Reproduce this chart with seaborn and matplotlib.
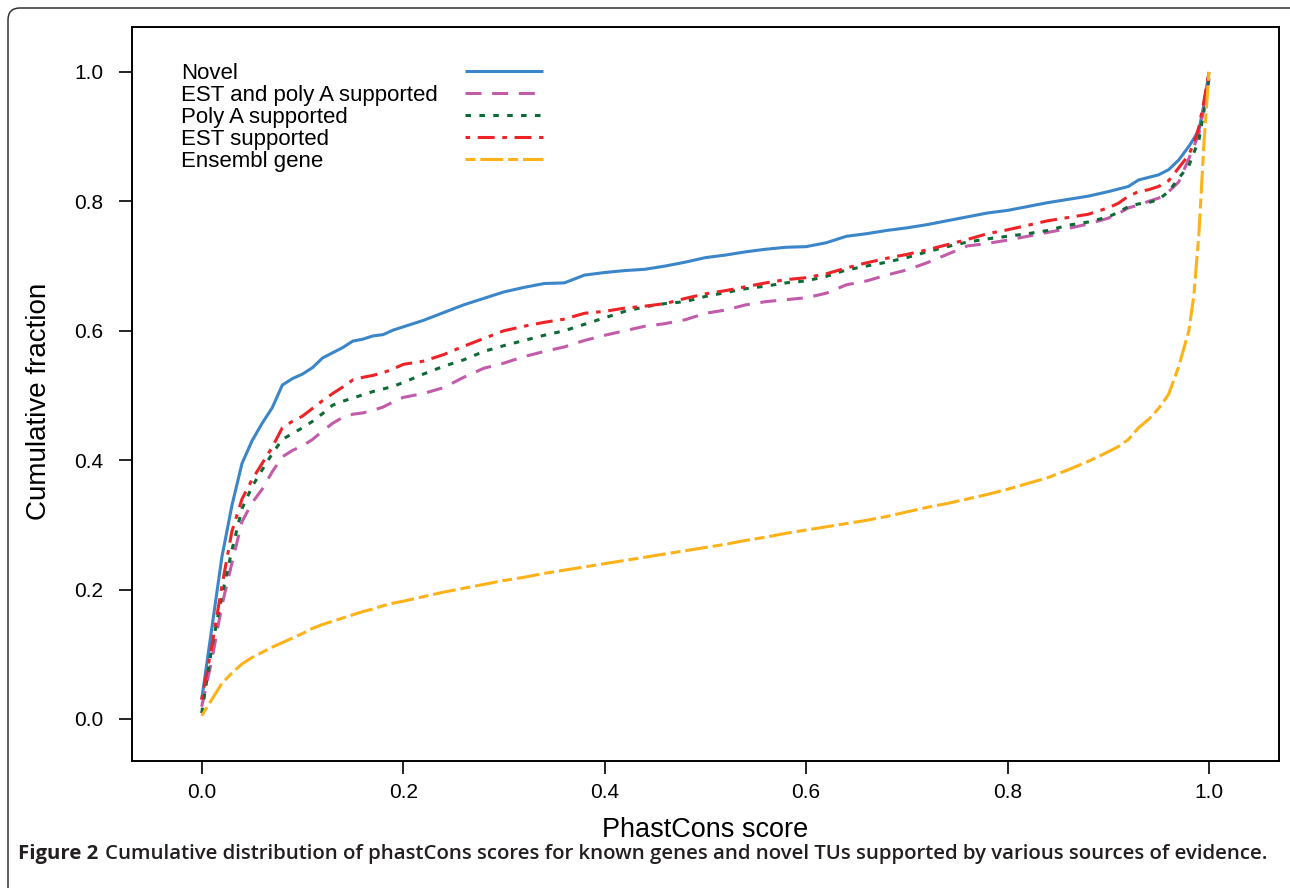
import numpy as np
import pandas as pd
import matplotlib
matplotlib.use("Agg")
import matplotlib.pyplot as plt
import seaborn as sns
from matplotlib.patches import FancyBboxPatch
from matplotlib.transforms import IdentityTransform

# ---------------- data ----------------
score = [0, 0.01, 0.02, 0.03, 0.04, 0.05, 0.06, 0.07, 0.08, 0.09, 0.10, 0.11, 0.12, 0.13,
         0.14, 0.15, 0.16, 0.17, 0.18, 0.19, 0.20, 0.22, 0.24, 0.26, 0.28, 0.30, 0.32, 0.34,
         0.36, 0.38, 0.40, 0.42, 0.44, 0.46, 0.48, 0.50, 0.52, 0.54, 0.56, 0.58, 0.60, 0.62,
         0.64, 0.66, 0.68, 0.70, 0.72, 0.74, 0.76, 0.78, 0.80, 0.82, 0.84, 0.86, 0.88, 0.90,
         0.91, 0.92, 0.93, 0.94, 0.95, 0.96, 0.97, 0.98, 0.985, 0.99, 0.995, 1.00]

novel = [0.03, 0.14, 0.25, 0.33, 0.395, 0.43, 0.457, 0.481, 0.516, 0.526, 0.533, 0.543, 0.558, 0.566,
         0.574, 0.584, 0.587, 0.592, 0.594, 0.601, 0.606, 0.616, 0.628, 0.640, 0.650, 0.660, 0.667, 0.673,
         0.674, 0.686, 0.690, 0.693, 0.695, 0.700, 0.706, 0.713, 0.717, 0.722, 0.726, 0.729, 0.730, 0.736,
         0.746, 0.750, 0.755, 0.759, 0.764, 0.770, 0.776, 0.782, 0.786, 0.792, 0.798, 0.803, 0.808, 0.815,
         0.819, 0.823, 0.833, 0.837, 0.841, 0.849, 0.864, 0.885, 0.897, 0.910, 0.950, 1.00]

est_polya = [0.019, 0.091, 0.175, 0.241, 0.305, 0.334, 0.355, 0.382, 0.405, 0.415, 0.422, 0.432, 0.445, 0.457,
             0.466, 0.471, 0.473, 0.477, 0.482, 0.490, 0.497, 0.503, 0.512, 0.528, 0.542, 0.550, 0.560, 0.568,
             0.575, 0.585, 0.593, 0.600, 0.607, 0.611, 0.617, 0.627, 0.632, 0.640, 0.645, 0.648, 0.651, 0.658,
             0.671, 0.677, 0.686, 0.694, 0.705, 0.718, 0.731, 0.735, 0.740, 0.746, 0.752, 0.758, 0.765, 0.774,
             0.781, 0.790, 0.794, 0.800, 0.805, 0.815, 0.830, 0.866, 0.885, 0.905, 0.945, 0.99]

polya = [0.009, 0.11, 0.19, 0.261, 0.325, 0.359, 0.385, 0.41, 0.432, 0.441, 0.450, 0.46, 0.472, 0.485,
         0.491, 0.496, 0.501, 0.506, 0.510, 0.514, 0.520, 0.533, 0.545, 0.555, 0.568, 0.577, 0.585, 0.593,
         0.600, 0.610, 0.620, 0.630, 0.637, 0.642, 0.645, 0.653, 0.659, 0.665, 0.669, 0.674, 0.677, 0.684,
         0.694, 0.700, 0.706, 0.713, 0.722, 0.730, 0.737, 0.742, 0.746, 0.750, 0.755, 0.763, 0.768, 0.776,
         0.783, 0.792, 0.796, 0.798, 0.803, 0.815, 0.836, 0.855, 0.875, 0.895, 0.94, 0.99]

est = [0.03, 0.112, 0.205, 0.29, 0.34, 0.37, 0.395, 0.42, 0.45, 0.46, 0.468, 0.48, 0.492, 0.503,
       0.513, 0.524, 0.528, 0.531, 0.535, 0.541, 0.548, 0.553, 0.563, 0.576, 0.588, 0.600, 0.607, 0.613,
       0.618, 0.627, 0.630, 0.635, 0.638, 0.642, 0.650, 0.657, 0.662, 0.668, 0.674, 0.679, 0.682, 0.688,
       0.697, 0.705, 0.712, 0.718, 0.725, 0.733, 0.741, 0.750, 0.756, 0.763, 0.770, 0.775, 0.780, 0.790,
       0.797, 0.808, 0.815, 0.818, 0.823, 0.832, 0.852, 0.872, 0.89, 0.915, 0.955, 1.00]

ensembl = [0.005, 0.03, 0.055, 0.071, 0.085, 0.095, 0.103, 0.111, 0.118, 0.125, 0.132, 0.140, 0.146, 0.151,
           0.156, 0.161, 0.166, 0.170, 0.175, 0.179, 0.182, 0.189, 0.196, 0.202, 0.208, 0.214, 0.219, 0.225,
           0.230, 0.235, 0.240, 0.245, 0.250, 0.255, 0.260, 0.265, 0.270, 0.276, 0.281, 0.287, 0.292, 0.297,
           0.302, 0.307, 0.313, 0.320, 0.327, 0.333, 0.340, 0.347, 0.355, 0.364, 0.373, 0.385, 0.398, 0.413,
           0.421, 0.432, 0.450, 0.463, 0.480, 0.502, 0.545, 0.600, 0.655, 0.750, 0.890, 1.00]

series_names = ["Novel", "EST and poly A supported", "Poly A supported", "EST supported", "Ensembl gene"]
series_values = [novel, est_polya, polya, est, ensembl]
colors = ["#3B86C8", "#C25BAA", "#0E6B36", "#EE2328", "#FDB21A"]
styles = ["-", (0, (11.5, 7.7)), (0, (4.0, 6.0)), (0, (3.3, 5.5, 12.2, 5.5)), (0, (7.2, 3.5, 16.5, 3.5))]

x_ticks = [0.0, 0.2, 0.4, 0.6, 0.8, 1.0]
y_ticks = [0.0, 0.2, 0.4, 0.6, 0.8, 1.0]
x_label = "PhastCons score"
y_label = "Cumulative fraction"
caption_bold = "Figure 2"
caption_rest = "Cumulative distribution of phastCons scores for known genes and novel TUs supported by various sources of evidence."

# ---------------- figure ----------------
W, H = 1290, 888
sns.set_theme(style="white")
plt.rcParams["font.family"] = ["Liberation Sans", "DejaVu Sans"]
plt.rcParams["lines.scale_dashes"] = False

fig = plt.figure(figsize=(W / 100, H / 100), dpi=100)
AX_L, AX_R, AX_T, AX_B = 131.7, 1279.0, 27.3, 760.7
ax = fig.add_axes([AX_L / W, 1 - AX_B / H, (AX_R - AX_L) / W, (AX_B - AX_T) / H])

for name, vals, col, ls in zip(series_names, series_values, colors, styles):
    sns.lineplot(x=score, y=vals, ax=ax, color=col, linestyle=ls, linewidth=2.2,
                 label=name, solid_capstyle="butt", dash_capstyle="butt")

ax.set_xlim(-0.0695, 1.0695)
ax.set_ylim(-0.0645, 1.069)
ax.set_xticks(x_ticks)
ax.set_yticks(y_ticks)
ax.set_xticklabels([f"{v:.1f}" for v in x_ticks])
ax.set_yticklabels([f"{v:.1f}" for v in y_ticks])
ax.tick_params(axis="both", direction="out", length=9.3, width=1.2, colors="black",
               labelsize=15, bottom=True, left=True)
ax.tick_params(axis="x", pad=7)
ax.tick_params(axis="y", pad=11)
for sp in ax.spines.values():
    sp.set_color("black")
    sp.set_linewidth(1.4)
    sp.set_visible(True)
ax.grid(False)

ax.set_xlabel(x_label, fontsize=19.5, color="black")
ax.set_ylabel(y_label, fontsize=20, color="black")
ax.xaxis.set_label_coords((705 - AX_L) / (AX_R - AX_L), (AX_B - 817) / (AX_B - AX_T))
ax.yaxis.set_label_coords((52 - AX_L) / (AX_R - AX_L), 0.49)

# legend: text column (left aligned) and handle column, rows sharing the same spacing
handles, labels = ax.get_legend_handles_labels()
leg_top = (AX_B - 63) / (AX_B - AX_T)
common = dict(loc="upper left", frameon=False, fontsize=16, labelspacing=0.04,
              borderpad=0, borderaxespad=0)
leg_text = ax.legend(handles, labels, bbox_to_anchor=((181 - AX_L) / (AX_R - AX_L), leg_top),
                     handlelength=0, handletextpad=0, **common)
for t in leg_text.get_texts():
    t.set_color("black")
for h in leg_text.legend_handles:
    h.set_visible(False)
ax.add_artist(leg_text)
leg_lines = ax.legend(handles, [""] * len(handles),
                      bbox_to_anchor=((465 - AX_L) / (AX_R - AX_L), leg_top),
                      handlelength=3.5, handletextpad=0, **common)

# journal frame (rounded corner)
frame = FancyBboxPatch((8, -60), 1400, 940, boxstyle="round,pad=0,rounding_size=12",
                       transform=IdentityTransform(), fill=False, edgecolor="#333333",
                       linewidth=1.1, clip_on=False)
fig.patches.append(frame)

# caption
fig.canvas.draw()
r = fig.canvas.get_renderer()
fs = 13.0
yc = 1 - 859 / H
t1 = fig.text(18 / W, yc, caption_bold, fontsize=fs, weight="bold", family="Open Sans",
              va="baseline", ha="left", color="#231F20")
bb = t1.get_window_extent(r)
t2 = fig.text((bb.x1 + 6) / W, yc, caption_rest, fontsize=fs, weight="semibold", family="Open Sans",
              va="baseline", ha="left", color="#231F20")
bb2 = t2.get_window_extent(r)
scale = (1268 - 18) / (bb2.x1 - 18)
fs2 = fs * scale
t1.set_fontsize(fs2)
t2.set_fontsize(fs2)
fig.canvas.draw()
bb = t1.get_window_extent(r)
t2.set_x((bb.x1 + 6 * scale) / W)

fig.savefig("out.png", dpi=100)
